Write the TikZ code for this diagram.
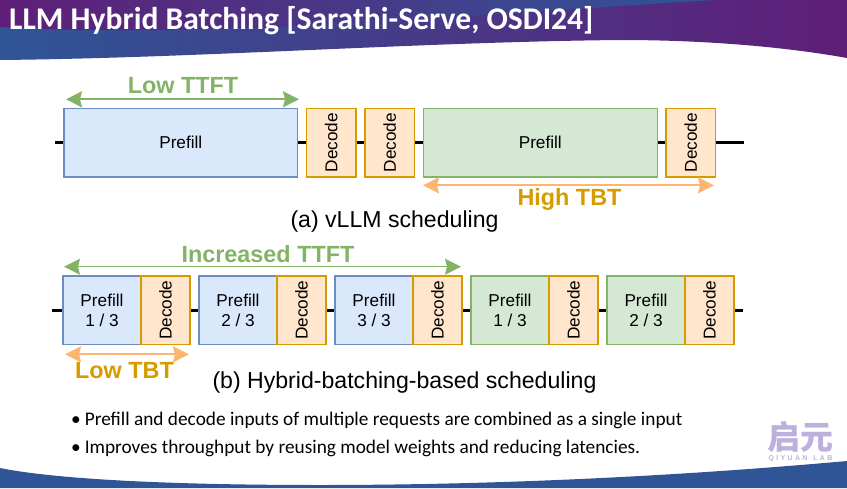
\documentclass[tikz,border=0pt]{standalone}
\usepackage{fontspec}
\setmainfont{Liberation Sans}
\newfontfamily\slidefont{Carlito}
\newfontfamily\logofont{Noto Sans CJK SC}
\usetikzlibrary{positioning, arrows.meta, calc}
\definecolor{blueFill}{HTML}{DAE8FC}
\definecolor{blueLine}{HTML}{6C8EBF}
\definecolor{greenFill}{HTML}{D5E8D4}
\definecolor{greenLine}{HTML}{82B366}
\definecolor{orangeFill}{HTML}{FFE6CC}
\definecolor{orangeLine}{HTML}{D79B00}
\definecolor{orangeArrow}{HTML}{FFB570}
\definecolor{bannerBlue}{HTML}{2F5597}
\definecolor{bannerPurple}{HTML}{5F1E78}
\definecolor{logoPurple}{HTML}{BDB0DC}
\tikzset{
  box/.style={draw, line width=1.6pt, inner sep=0pt, font=\fontsize{17.2}{20.5}\selectfont, align=center, minimum height=68.5pt},
  prefillblue/.style={box, draw=blueLine, fill=blueFill},
  prefillgreen/.style={box, draw=greenLine, fill=greenFill},
  decodebox/.style={box, draw=orangeLine, fill=orangeFill, minimum width=49.3pt},
  timeline/.style={line width=3pt, black},
  spanarrow/.style={<->, >={Stealth[length=16pt,width=16pt,inset=2pt]}, line width=2pt},
  spanlabel/.style={font=\fontsize{23.4}{23.4}\selectfont\bfseries},
  caption/.style={font=\fontsize{23.1}{23.1}\selectfont},
  bullet/.style={anchor=west, inner sep=0pt, font=\slidefont\fontsize{19.3}{20}\selectfont}
}
\begin{document}
\begin{tikzpicture}[x=1pt, y=-1pt]
\useasboundingbox (0,0) rectangle (847,488);

% ---- BANNERS ----
\shade[left color=bannerBlue, right color=bannerPurple]
  (0,0) -- (847,0) -- (847,58) .. controls (780,46) and (700,40) .. (620,40)
  .. controls (420,42) and (200,58) .. (0,60) -- cycle;
\shade[left color=bannerPurple, right color=bannerBlue] (0,0) -- (713,0)
  .. controls (430,18) and (200,38) .. (0,27) -- cycle;
\fill[bannerBlue] (0,488) -- (0,468) .. controls (60,480) and (180,485) .. (320,485)
  .. controls (500,485) and (680,476) .. (847,461) -- (847,488) -- cycle;
\node[anchor=west, white, inner sep=0pt, font=\slidefont\bfseries\fontsize{31.6}{32}\selectfont] (title) at (9,21)
  {LLM Hybrid Batching [Sarathi-Serve, OSDI24]};

% ---- TOP: vLLM scheduling ----
\node[prefillblue, minimum width=233.7pt] (pa) at (180.8,142.7) {Prefill};
\node[decodebox] (da) at (331.3,142.7) {\rotatebox{90}{Decode}};
\node[decodebox] (db) at (389.7,142.7) {\rotatebox{90}{Decode}};
\node[prefillgreen, minimum width=234pt] (pb) at (540.3,142.7) {Prefill};
\node[decodebox] (dc) at (690.7,142.7) {\rotatebox{90}{Decode}};
\coordinate (startA) at (55,142);
\coordinate (endA) at (744,142);
\draw[timeline] (startA) -- (startA -| pa.west);
\draw[timeline] (pa.east |- startA) -- (da.west |- startA);
\draw[timeline] (da.east |- startA) -- (db.west |- startA);
\draw[timeline] (db.east |- startA) -- (pb.west |- startA);
\draw[timeline] (pb.east |- startA) -- (dc.west |- startA);
\draw[timeline] (dc.east |- startA) -- (endA);

\coordinate (ttftL) at (66,99.3);
\coordinate (ttftR) at (299,99.3);
\draw[spanarrow, greenLine] (ttftL) -- (ttftR);
\node[spanlabel, greenLine] (lowttft) at (183,86) {Low TTFT};
\coordinate (tbtL) at (423,185.3);
\coordinate (tbtR) at (714,185.3);
\draw[spanarrow, orangeArrow] (tbtL) -- (tbtR);
\node[spanlabel, orangeLine] (hightbt) at (569.5,199.5) {High TBT};
\node[caption] (capa) at (394.5,221.5) {(a) vLLM scheduling};

% ---- BOTTOM: Hybrid-batching-based scheduling ----
\foreach \name/\x/\style/\frac in {a/102/prefillblue/1, b/238/prefillblue/2, c/374/prefillblue/3,
                                   d/510/prefillgreen/1, e/646/prefillgreen/2} {
  \node[\style, minimum width=77.8pt] (q\name) at (\x,310.2) {Prefill\\\frac\ / 3};
  \node[decodebox] (r\name) at (\x+63.4,310.2) {\rotatebox{90}{Decode}};
}
\coordinate (startB) at (52,310.5);
\coordinate (endB) at (743,310.5);
\draw[timeline] (startB) -- (startB -| qa.west);
\draw[timeline] (ra.east |- startB) -- (qb.west |- startB);
\draw[timeline] (rb.east |- startB) -- (qc.west |- startB);
\draw[timeline] (rc.east |- startB) -- (qd.west |- startB);
\draw[timeline] (rd.east |- startB) -- (qe.west |- startB);
\draw[timeline] (re.east |- startB) -- (endB);

\coordinate (incL) at (64,266.7);
\coordinate (incR) at (461,266.7);
\draw[spanarrow, greenLine, line width=1.4pt] (incL) -- (incR);
\node[spanlabel, greenLine] (incttft) at (268,254) {Increased TTFT};
\coordinate (lowL) at (65,354.3);
\coordinate (lowR) at (189,354.3);
\draw[spanarrow, orangeArrow] (lowL) -- (lowR);
\node[spanlabel, orangeLine] (lowtbt) at (124.5,371) {Low TBT};
\node[caption] (capb) at (404.5,383) {(b) Hybrid-batching-based scheduling};

% ---- BULLETS ----
\node[bullet] (first) at (71,420) {•\hspace{4pt}Prefill and decode inputs of multiple requests are combined as a single input};
\node[bullet] (second) at (71,448) {•\hspace{4pt}Improves throughput by reusing model weights and reducing latencies.};

% ---- LOGO ----
\node[logoPurple, font=\logofont\bfseries\fontsize{33}{33}\selectfont, inner sep=0pt] (logo) at (800.5,437) {启元};
\node[logoPurple, font=\bfseries\fontsize{7}{7}\selectfont, inner sep=0pt, below=2pt of logo] (lab) {Q\,\,I\,\,Y\,\,U\,\,A\,\,N\ \ \ L\,\,A\,\,B};
\end{tikzpicture}
\end{document}
